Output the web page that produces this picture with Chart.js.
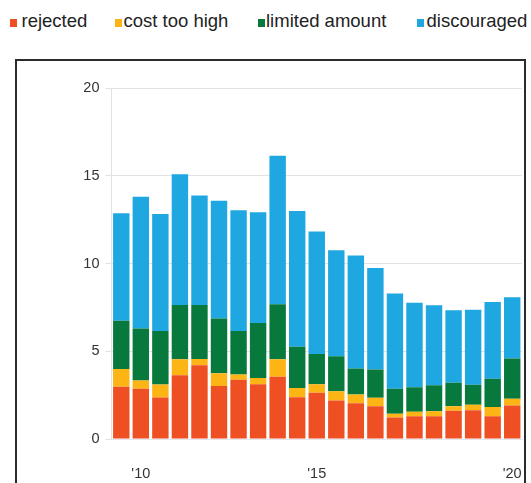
<!DOCTYPE html>
<html><head><meta charset="utf-8">
<script src="https://cdn.jsdelivr.net/npm/chart.js@4"></script>
<style>
html,body{margin:0;padding:0;background:#fff;width:531px;height:483px;overflow:hidden;font-family:"Liberation Sans",Arial,sans-serif;}
#wrap{position:relative;width:531px;height:483px;}
#c{position:absolute;left:0;top:0;}
#frame{position:absolute;left:15px;top:59px;width:507px;height:500px;border:2px solid #2b2b2b;pointer-events:none;}
.sq{position:absolute;top:18.5px;width:7px;height:8px;}
.lt{position:absolute;top:12px;font-size:18.5px;line-height:18.5px;color:#222;white-space:nowrap;}
</style></head>
<body><div id="wrap"><div id="legend"></div><canvas id="c" width="531" height="483"></canvas><div id="frame"></div></div>
<script>
const seriesNames = ["rejected", "cost too high", "limited amount", "discouraged"];
const seriesColors = ["#EF5023", "#FDB515", "#08793C", "#1FA7E1"];
const xTickLabels = ["", "'10", "", "", "", "", "", "", "", "", "'15", "", "", "", "", "", "", "", "", "", "'20"];
const rejected    = [2.98,2.87,2.36,3.63,4.20,3.02,3.38,3.12,3.55,2.38,2.63,2.19,2.04,1.87,1.22,1.30,1.30,1.61,1.64,1.30,1.91];
const costTooHigh = [1.01,0.46,0.74,0.91,0.36,0.73,0.29,0.36,0.99,0.53,0.49,0.53,0.49,0.48,0.22,0.25,0.28,0.26,0.31,0.52,0.38];
const limitedAmount = [2.75,2.96,3.06,3.10,3.08,3.11,2.49,3.13,3.14,2.35,1.73,2.00,1.48,1.61,1.42,1.40,1.48,1.33,1.14,1.61,2.30];
const discouraged = [6.12,7.51,6.66,7.44,6.24,6.72,6.87,6.31,8.46,7.73,6.98,6.03,6.44,5.79,5.43,4.81,4.56,4.13,4.27,4.37,3.49];
const yTicks = [0, 5, 10, 15, 20];

// HTML legend
const sqX = [10, 115, 258, 416.5];
const txX = [21.5, 123.5, 266, 426.5];
const lg = document.getElementById('legend');
seriesNames.forEach((n, i) => {
  const s = document.createElement('div'); s.className = 'sq'; s.style.left = sqX[i] + 'px'; s.style.background = seriesColors[i]; lg.appendChild(s);
  const t = document.createElement('div'); t.className = 'lt'; t.style.left = txX[i] + 'px'; t.textContent = n; lg.appendChild(t);
});

const allSeries = [rejected, costTooHigh, limitedAmount, discouraged];
new Chart(document.getElementById('c'), {
  type: 'bar',
  data: {
    labels: xTickLabels,
    datasets: allSeries.map((d, i) => ({
      label: seriesNames[i], data: d, backgroundColor: seriesColors[i], borderWidth: 0,
      categoryPercentage: 1, barPercentage: 0.84
    }))
  },
  options: {
    responsive: false, animation: false,
    layout: { padding: { left: 0, right: 9, top: 88, bottom: 0 } },
    plugins: { legend: { display: false }, tooltip: { enabled: false } },
    scales: {
      x: {
        stacked: true,
        grid: { display: true, drawOnChartArea: false, drawTicks: true, tickLength: 26, tickColor: 'rgba(0,0,0,0)' },
        border: { display: true, color: '#e4e8ee' },
        ticks: { autoSkip: false, maxRotation: 0, padding: 0, color: '#333',
          font: { family: '"Liberation Sans", Arial, sans-serif', size: 14.5 } },
        afterFit: s => { s.height = 44; }
      },
      y: {
        stacked: true, min: 0, max: 20,
        afterBuildTicks: s => { s.ticks = yTicks.map(v => ({ value: v })); },
        grid: { color: '#e2e2e2', tickLength: 6, lineWidth: 1 },
        border: { display: true, color: '#e2e2e2' },
        ticks: { padding: 6, color: '#333', font: { family: '"Liberation Sans", Arial, sans-serif', size: 14.5 } },
        afterFit: s => { s.width = 111.5; }
      }
    }
  }
});
</script></body></html>
